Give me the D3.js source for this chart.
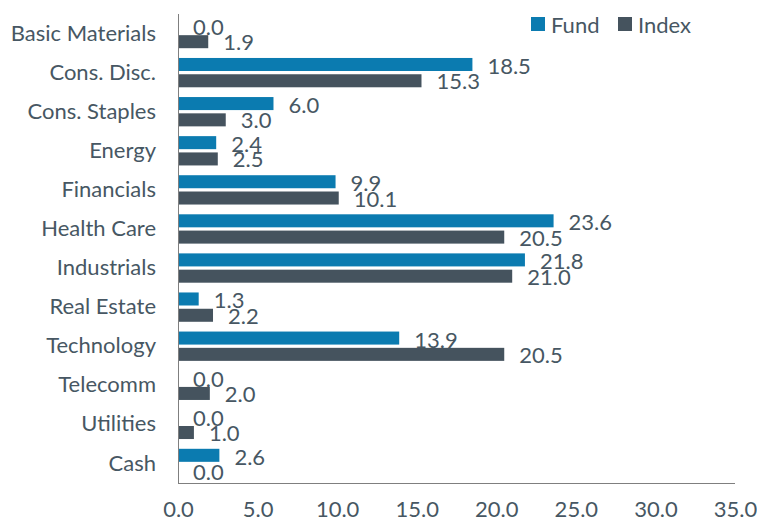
<!DOCTYPE html>
<html>
<head>
<meta charset="utf-8">
<script src="https://cdn.jsdelivr.net/npm/d3@7"></script>
<style>
  body { margin: 0; background: #fff; }
  text { font-family: Lato, "Open Sans", sans-serif; fill: #475763; }
</style>
</head>
<body>
<div id="chart"></div>
<script>
// Sector weights, fund vs index
const sectors = ["Basic Materials", "Cons. Disc.", "Cons. Staples", "Energy", "Financials",
  "Health Care", "Industrials", "Real Estate", "Technology", "Telecomm", "Utilities", "Cash"];
const fundValues = [0.0, 18.5, 6.0, 2.4, 9.9, 23.6, 21.8, 1.3, 13.9, 0.0, 0.0, 2.6];
const indexValues = [1.9, 15.3, 3.0, 2.5, 10.1, 20.5, 21.0, 2.2, 20.5, 2.0, 1.0, 0.0];
const seriesNames = ["Fund", "Index"];
const xTicks = [0, 5, 10, 15, 20, 25, 30, 35];

const colors = { Fund: "#0b7bb0", Index: "#45535e" };
const fontSize = "22px";

const width = 757, height = 522;
const margin = { top: 14, right: 22, bottom: 39, left: 178 };

const svg = d3.select("#chart")
  .append("svg")
  .attr("width", width)
  .attr("height", height);

const x = d3.scaleLinear()
  .domain([0, 35])
  .range([margin.left, width - margin.right]);

const y0 = d3.scaleBand()
  .domain(sectors)
  .range([margin.top, height - margin.bottom]);

const y1 = d3.scaleBand()
  .domain(seriesNames)
  .range([0, y0.bandwidth()])
  .paddingInner(0.2)
  .paddingOuter(0.3);

const rows = sectors.map((s, i) => ({ sector: s, Fund: fundValues[i], Index: indexValues[i] }));

// bars
const groups = svg.append("g")
  .selectAll("g")
  .data(rows)
  .join("g")
  .attr("transform", d => `translate(0,${y0(d.sector)})`);

groups.selectAll("rect")
  .data(d => seriesNames.map(k => ({ key: k, value: d[k] })))
  .join("rect")
  .attr("x", x(0))
  .attr("y", d => y1(d.key))
  .attr("width", d => x(d.value) - x(0))
  .attr("height", y1.bandwidth())
  .attr("fill", d => colors[d.key]);

// value labels
groups.selectAll("text")
  .data(d => seriesNames.map(k => ({ key: k, value: d[k] })))
  .join("text")
  .attr("x", d => x(d.value) + 15)
  .attr("y", d => y1(d.key) + y1.bandwidth() / 2 + (d.key === "Fund" ? 1 : 0))
  .attr("dominant-baseline", "central")
  .style("font-size", fontSize)
  .text(d => d3.format(".1f")(d.value));

// y axis (category labels)
const yAxis = svg.append("g")
  .attr("transform", `translate(${margin.left},0)`)
  .call(d3.axisLeft(y0).tickSize(0).tickPadding(22));
yAxis.select(".domain").attr("stroke", "#7f7f7f").attr("d", `M0.5,${margin.top}V${height - margin.bottom}`);
yAxis.selectAll("text").style("font-size", fontSize).attr("fill", "#475763");

// x axis
const xAxis = svg.append("g")
  .attr("transform", `translate(0,${height - margin.bottom})`)
  .call(d3.axisBottom(x).tickValues(xTicks).tickSize(0).tickPadding(18).tickFormat(d3.format(".1f")));
xAxis.select(".domain").attr("stroke", "#7f7f7f").attr("d", `M${margin.left},0.5H${width - margin.right}`);
xAxis.selectAll("text").style("font-size", fontSize).attr("fill", "#475763");

// legend
const legend = svg.append("g")
  .selectAll("g")
  .data(seriesNames)
  .join("g")
  .attr("transform", (d, i) => `translate(${531 + i * 87},17)`);
legend.append("rect")
  .attr("width", 14)
  .attr("height", 14)
  .attr("fill", d => colors[d]);
legend.append("text")
  .attr("x", 20)
  .attr("y", 7)
  .attr("dominant-baseline", "central")
  .style("font-size", fontSize)
  .text(d => d);
</script>
</body>
</html>
